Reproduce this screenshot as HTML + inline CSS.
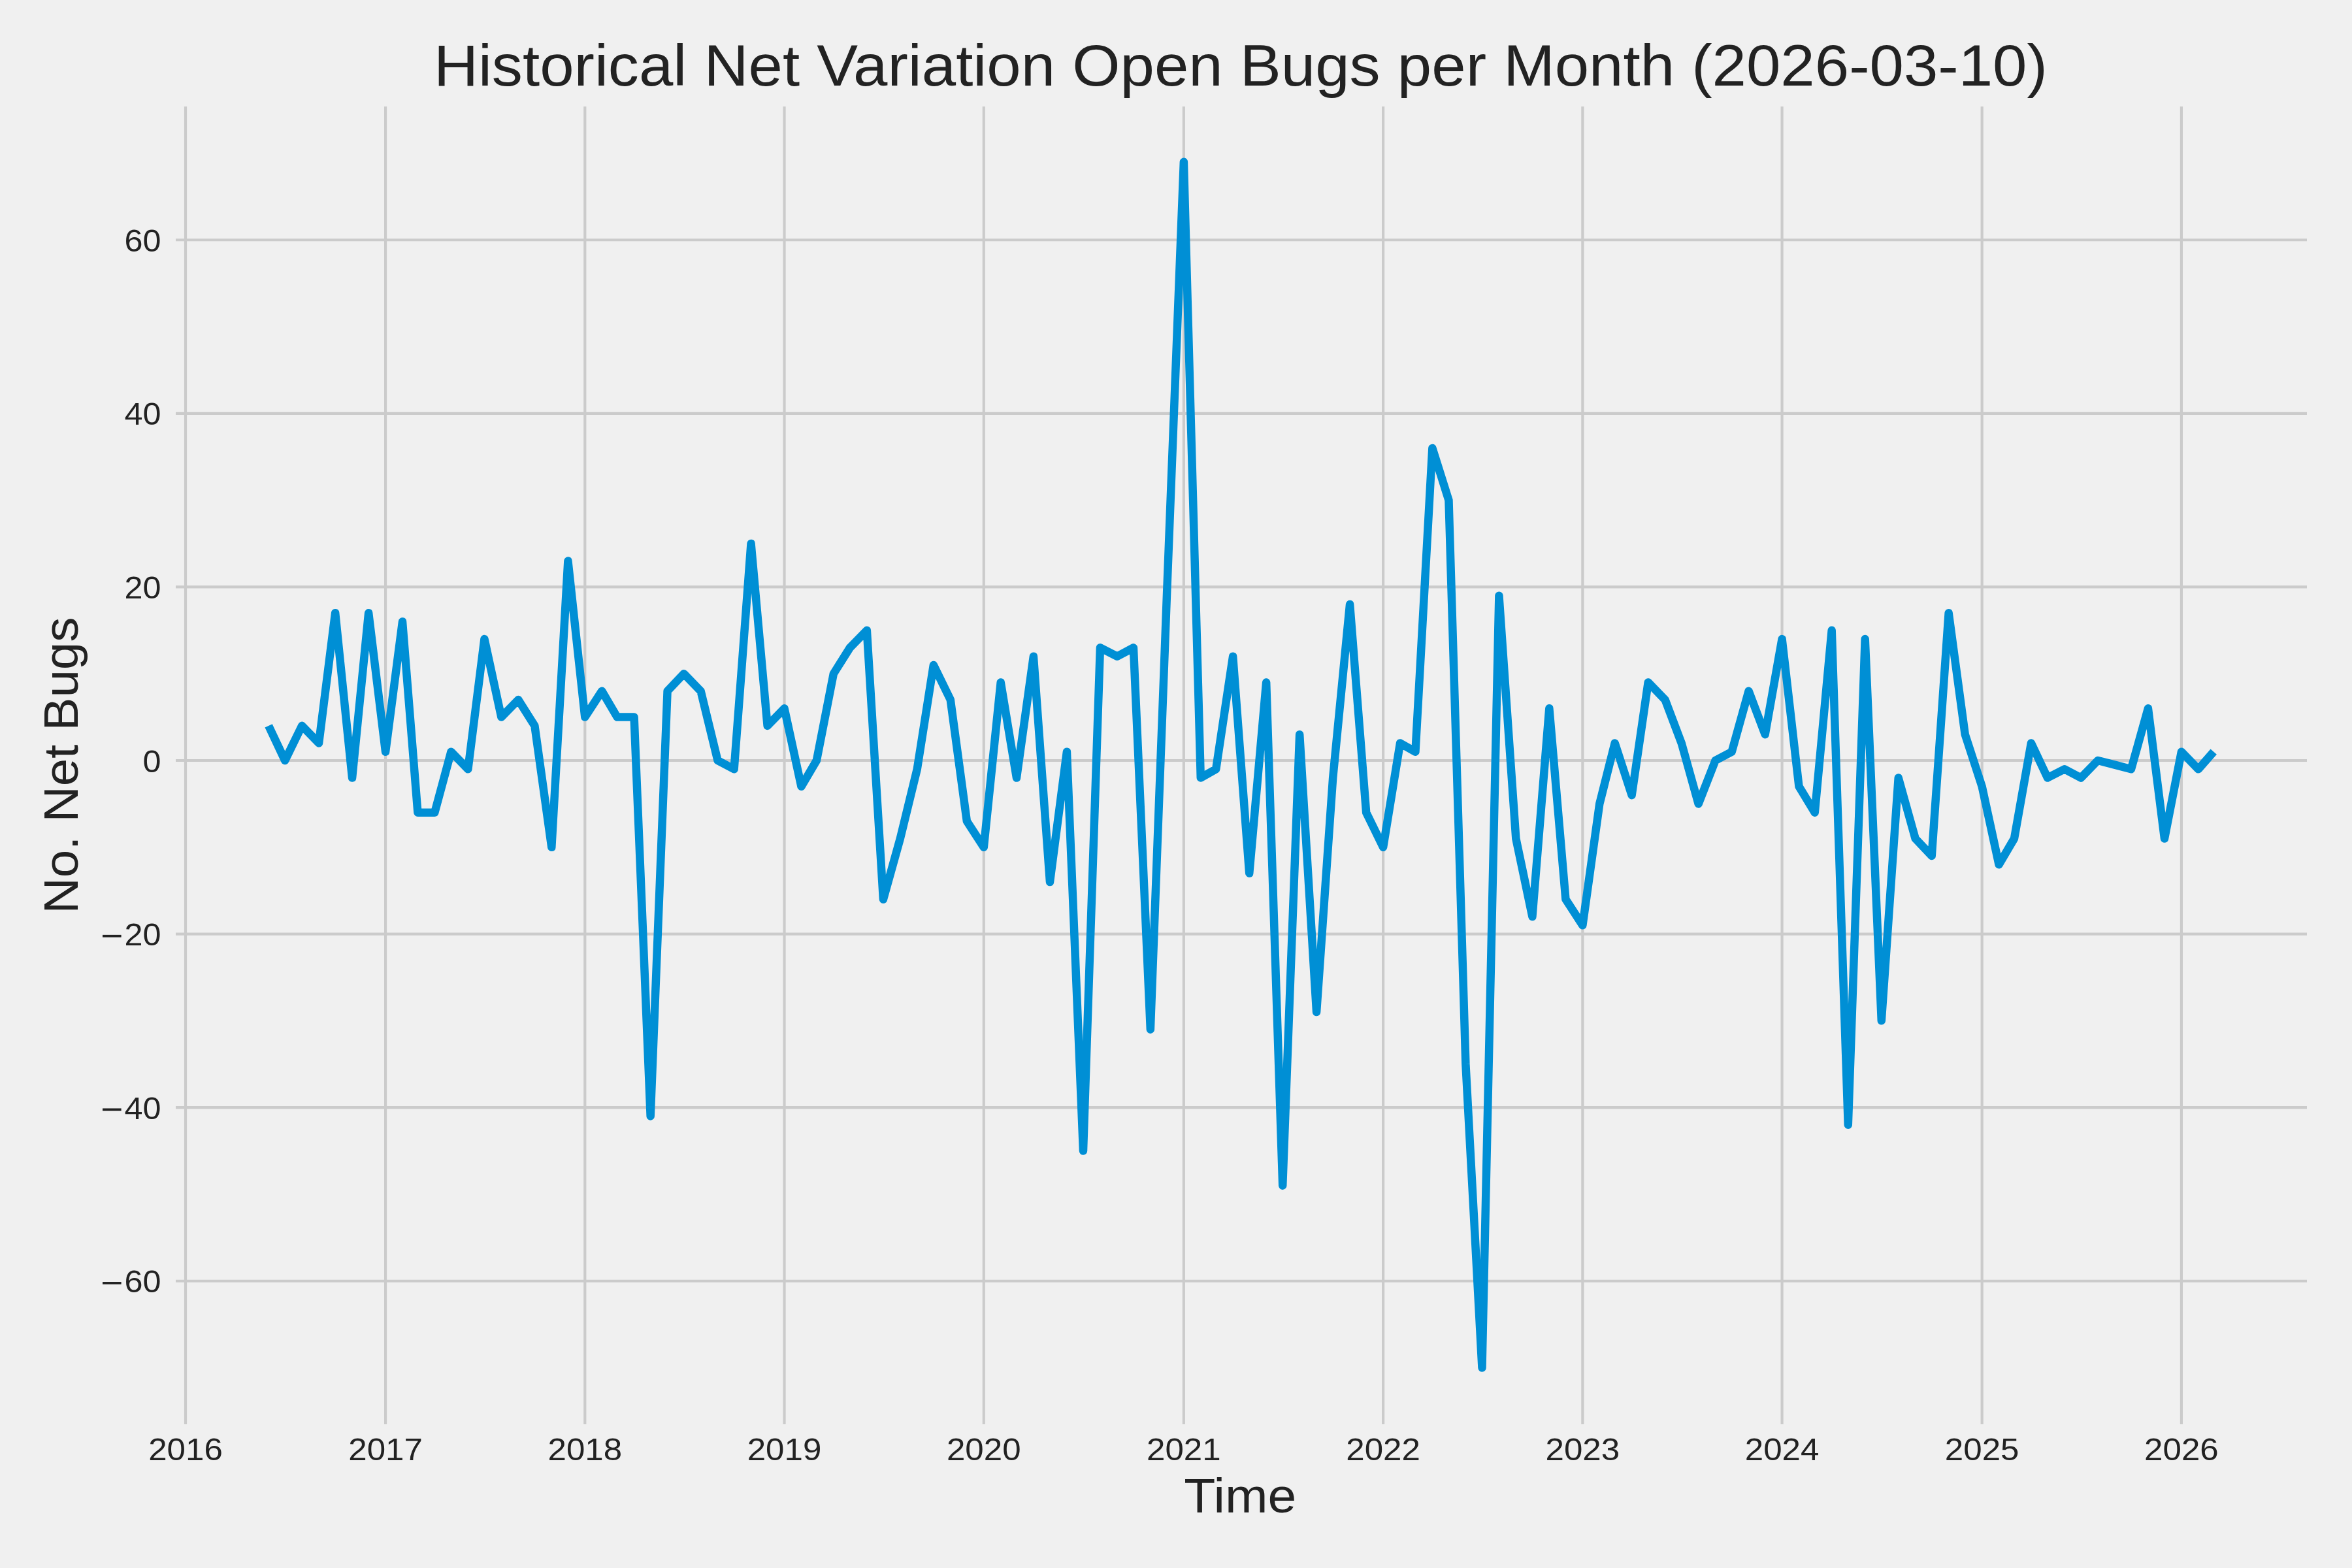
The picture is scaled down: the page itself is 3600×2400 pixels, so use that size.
<!DOCTYPE html>
<html><head><meta charset="utf-8"><style>html,body{margin:0;padding:0;background:#f0f0f0;}svg{display:block;}</style></head>
<body><svg width="3600" height="2400" viewBox="0 0 3600 2400">
<rect x="0" y="0" width="3600" height="2400" fill="#f0f0f0"/>
<line x1="284.00" y1="163.0" x2="284.00" y2="2180.0" stroke="#cbcbcb" stroke-width="4.17"/>
<line x1="590.08" y1="163.0" x2="590.08" y2="2180.0" stroke="#cbcbcb" stroke-width="4.17"/>
<line x1="895.31" y1="163.0" x2="895.31" y2="2180.0" stroke="#cbcbcb" stroke-width="4.17"/>
<line x1="1200.55" y1="163.0" x2="1200.55" y2="2180.0" stroke="#cbcbcb" stroke-width="4.17"/>
<line x1="1505.79" y1="163.0" x2="1505.79" y2="2180.0" stroke="#cbcbcb" stroke-width="4.17"/>
<line x1="1811.87" y1="163.0" x2="1811.87" y2="2180.0" stroke="#cbcbcb" stroke-width="4.17"/>
<line x1="2117.11" y1="163.0" x2="2117.11" y2="2180.0" stroke="#cbcbcb" stroke-width="4.17"/>
<line x1="2422.35" y1="163.0" x2="2422.35" y2="2180.0" stroke="#cbcbcb" stroke-width="4.17"/>
<line x1="2727.59" y1="163.0" x2="2727.59" y2="2180.0" stroke="#cbcbcb" stroke-width="4.17"/>
<line x1="3033.66" y1="163.0" x2="3033.66" y2="2180.0" stroke="#cbcbcb" stroke-width="4.17"/>
<line x1="3338.90" y1="163.0" x2="3338.90" y2="2180.0" stroke="#cbcbcb" stroke-width="4.17"/>
<line x1="269.0" y1="1960.74" x2="3531.0" y2="1960.74" stroke="#cbcbcb" stroke-width="4.17"/>
<line x1="269.0" y1="1695.16" x2="3531.0" y2="1695.16" stroke="#cbcbcb" stroke-width="4.17"/>
<line x1="269.0" y1="1429.58" x2="3531.0" y2="1429.58" stroke="#cbcbcb" stroke-width="4.17"/>
<line x1="269.0" y1="1164.00" x2="3531.0" y2="1164.00" stroke="#cbcbcb" stroke-width="4.17"/>
<line x1="269.0" y1="898.42" x2="3531.0" y2="898.42" stroke="#cbcbcb" stroke-width="4.17"/>
<line x1="269.0" y1="632.84" x2="3531.0" y2="632.84" stroke="#cbcbcb" stroke-width="4.17"/>
<line x1="269.0" y1="367.26" x2="3531.0" y2="367.26" stroke="#cbcbcb" stroke-width="4.17"/>
<polyline points="411.11,1110.88 436.20,1164.00 462.13,1110.88 488.05,1137.44 513.14,938.26 539.06,1190.56 564.15,938.26 590.08,1150.72 616.00,951.54 639.42,1243.67 665.34,1243.67 690.43,1150.72 716.35,1177.28 741.44,978.09 767.36,1097.61 793.29,1071.05 818.38,1110.88 844.30,1296.79 869.39,858.58 895.31,1097.61 921.24,1057.77 944.65,1097.61 970.58,1097.61 995.67,1708.44 1021.59,1057.77 1046.68,1031.21 1072.60,1057.77 1098.53,1164.00 1123.62,1177.28 1149.54,832.02 1174.63,1110.88 1200.55,1084.33 1226.48,1203.84 1249.89,1164.00 1275.82,1031.21 1300.91,991.37 1326.83,964.82 1351.92,1376.46 1377.84,1283.51 1403.77,1177.28 1428.86,1017.93 1454.78,1071.05 1479.87,1256.95 1505.79,1296.79 1531.72,1044.49 1555.97,1190.56 1581.89,1004.65 1606.98,1349.91 1632.91,1150.72 1657.99,1761.55 1683.92,991.37 1709.84,1004.65 1734.93,991.37 1760.86,1575.65 1785.94,911.70 1811.87,247.75 1837.79,1190.56 1861.21,1177.28 1887.13,1004.65 1912.22,1336.63 1938.15,1044.49 1963.23,1814.67 1989.16,1124.16 2015.08,1549.09 2040.17,1190.56 2066.09,924.98 2091.18,1243.67 2117.11,1296.79 2143.03,1137.44 2166.45,1150.72 2192.37,685.96 2217.46,765.63 2243.38,1628.76 2268.47,2093.53 2294.40,911.70 2320.32,1283.51 2345.41,1403.02 2371.33,1084.33 2396.42,1376.46 2422.35,1416.30 2448.27,1230.39 2471.69,1137.44 2497.61,1217.12 2522.70,1044.49 2548.62,1071.05 2573.71,1137.44 2599.64,1230.39 2625.56,1164.00 2650.65,1150.72 2676.57,1057.77 2701.66,1124.16 2727.59,978.09 2753.51,1203.84 2777.76,1243.67 2803.69,964.82 2828.77,1721.72 2854.70,978.09 2879.79,1562.37 2905.71,1190.56 2931.64,1283.51 2956.72,1310.07 2982.65,938.26 3007.74,1124.16 3033.66,1203.84 3059.59,1323.35 3083.00,1283.51 3108.93,1137.44 3134.01,1190.56 3159.94,1177.28 3185.03,1190.56 3210.95,1164.00 3236.87,1170.64 3261.96,1177.28 3287.89,1084.33 3312.98,1283.51 3338.90,1150.72 3364.82,1177.28 3388.24,1150.72" fill="none" stroke="#008fd5" stroke-width="12.5" stroke-linejoin="round" stroke-linecap="butt"/>
<text x="1898.9" y="131.1" text-anchor="middle" font-size="88.8" fill="#222222" textLength="2470" lengthAdjust="spacingAndGlyphs" style="font-family:'Liberation Sans',sans-serif">Historical Net Variation Open Bugs per Month (2026-03-10)</text>
<text x="246.6" y="1978.24" text-anchor="end" font-size="48.4" fill="#222222" textLength="56.00" lengthAdjust="spacingAndGlyphs" style="font-family:'Liberation Sans',sans-serif">60</text>
<rect x="157" y="1962.04" width="28.6" height="3.7" fill="#222222"/>
<text x="246.6" y="1712.66" text-anchor="end" font-size="48.4" fill="#222222" textLength="56.00" lengthAdjust="spacingAndGlyphs" style="font-family:'Liberation Sans',sans-serif">40</text>
<rect x="157" y="1696.46" width="28.6" height="3.7" fill="#222222"/>
<text x="246.6" y="1447.08" text-anchor="end" font-size="48.4" fill="#222222" textLength="56.00" lengthAdjust="spacingAndGlyphs" style="font-family:'Liberation Sans',sans-serif">20</text>
<rect x="157" y="1430.88" width="28.6" height="3.7" fill="#222222"/>
<text x="246.6" y="1181.50" text-anchor="end" font-size="48.4" fill="#222222" textLength="28.00" lengthAdjust="spacingAndGlyphs" style="font-family:'Liberation Sans',sans-serif">0</text>
<text x="246.6" y="915.92" text-anchor="end" font-size="48.4" fill="#222222" textLength="56.00" lengthAdjust="spacingAndGlyphs" style="font-family:'Liberation Sans',sans-serif">20</text>
<text x="246.6" y="650.34" text-anchor="end" font-size="48.4" fill="#222222" textLength="56.00" lengthAdjust="spacingAndGlyphs" style="font-family:'Liberation Sans',sans-serif">40</text>
<text x="246.6" y="384.76" text-anchor="end" font-size="48.4" fill="#222222" textLength="56.00" lengthAdjust="spacingAndGlyphs" style="font-family:'Liberation Sans',sans-serif">60</text>
<text x="284.00" y="2234.9" text-anchor="middle" font-size="48.4" fill="#222222" textLength="113.7" lengthAdjust="spacingAndGlyphs" style="font-family:'Liberation Sans',sans-serif">2016</text>
<text x="590.08" y="2234.9" text-anchor="middle" font-size="48.4" fill="#222222" textLength="113.7" lengthAdjust="spacingAndGlyphs" style="font-family:'Liberation Sans',sans-serif">2017</text>
<text x="895.31" y="2234.9" text-anchor="middle" font-size="48.4" fill="#222222" textLength="113.7" lengthAdjust="spacingAndGlyphs" style="font-family:'Liberation Sans',sans-serif">2018</text>
<text x="1200.55" y="2234.9" text-anchor="middle" font-size="48.4" fill="#222222" textLength="113.7" lengthAdjust="spacingAndGlyphs" style="font-family:'Liberation Sans',sans-serif">2019</text>
<text x="1505.79" y="2234.9" text-anchor="middle" font-size="48.4" fill="#222222" textLength="113.7" lengthAdjust="spacingAndGlyphs" style="font-family:'Liberation Sans',sans-serif">2020</text>
<text x="1811.87" y="2234.9" text-anchor="middle" font-size="48.4" fill="#222222" textLength="113.7" lengthAdjust="spacingAndGlyphs" style="font-family:'Liberation Sans',sans-serif">2021</text>
<text x="2117.11" y="2234.9" text-anchor="middle" font-size="48.4" fill="#222222" textLength="113.7" lengthAdjust="spacingAndGlyphs" style="font-family:'Liberation Sans',sans-serif">2022</text>
<text x="2422.35" y="2234.9" text-anchor="middle" font-size="48.4" fill="#222222" textLength="113.7" lengthAdjust="spacingAndGlyphs" style="font-family:'Liberation Sans',sans-serif">2023</text>
<text x="2727.59" y="2234.9" text-anchor="middle" font-size="48.4" fill="#222222" textLength="113.7" lengthAdjust="spacingAndGlyphs" style="font-family:'Liberation Sans',sans-serif">2024</text>
<text x="3033.66" y="2234.9" text-anchor="middle" font-size="48.4" fill="#222222" textLength="113.7" lengthAdjust="spacingAndGlyphs" style="font-family:'Liberation Sans',sans-serif">2025</text>
<text x="3338.90" y="2234.9" text-anchor="middle" font-size="48.4" fill="#222222" textLength="113.7" lengthAdjust="spacingAndGlyphs" style="font-family:'Liberation Sans',sans-serif">2026</text>
<text x="1898.25" y="2314.9" text-anchor="middle" font-size="73.8" fill="#222222" textLength="172" lengthAdjust="spacingAndGlyphs" style="font-family:'Liberation Sans',sans-serif">Time</text>
<text transform="translate(118.8,1171.5) rotate(-90)" x="0" y="0" text-anchor="middle" font-size="74" fill="#222222" textLength="454" lengthAdjust="spacingAndGlyphs" style="font-family:'Liberation Sans',sans-serif">No. Net Bugs</text>
</svg></body></html>
